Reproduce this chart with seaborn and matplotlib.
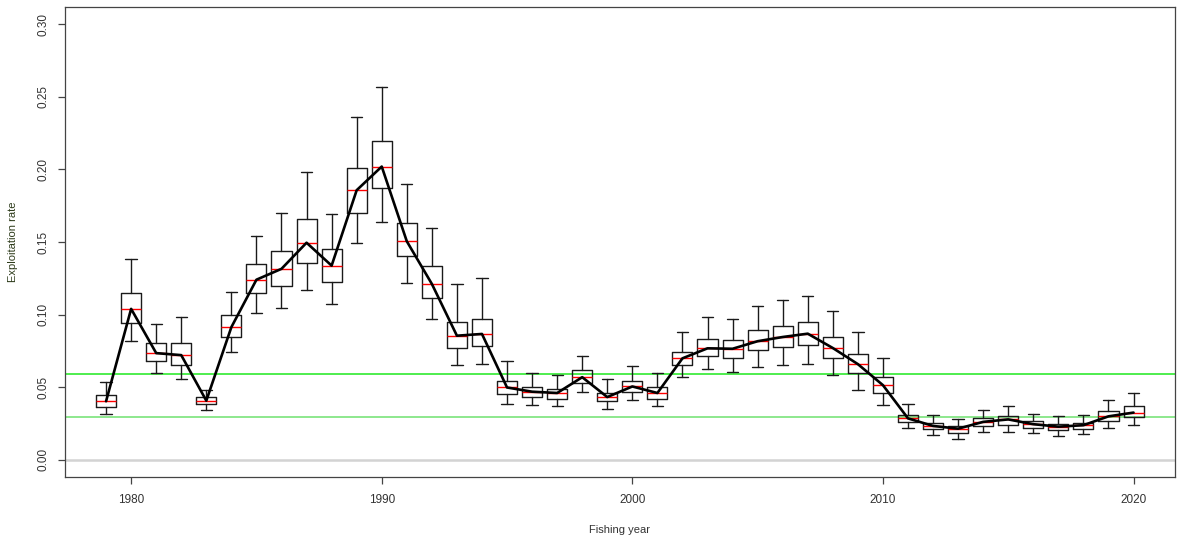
import numpy as np
import pandas as pd
import matplotlib
matplotlib.use("Agg")
import matplotlib.pyplot as plt
import seaborn as sns

years = list(range(1979, 2021))
lower = [0.0312, 0.0816, 0.0596, 0.0554, 0.0339, 0.0740, 0.1010, 0.1046, 0.1169, 0.1074,
         0.1490, 0.1635, 0.1218, 0.0970, 0.0651, 0.0658, 0.0381, 0.0374, 0.0367, 0.0466,
         0.0348, 0.0409, 0.0367, 0.0568, 0.0625, 0.0603, 0.0636, 0.0651, 0.0658, 0.0582,
         0.0483, 0.0374, 0.0215, 0.0170, 0.0144, 0.0192, 0.0187, 0.0180, 0.0166, 0.0173,
         0.0215, 0.0241]
q1 = [0.0360, 0.0944, 0.0679, 0.0651, 0.0383, 0.0845, 0.1147, 0.1197, 0.1356, 0.1223,
      0.1703, 0.1871, 0.1400, 0.1117, 0.0769, 0.0785, 0.0449, 0.0431, 0.0421, 0.0525,
      0.0402, 0.0468, 0.0421, 0.0651, 0.0714, 0.0703, 0.0755, 0.0776, 0.0790, 0.0698,
      0.0594, 0.0459, 0.0258, 0.0211, 0.0182, 0.0229, 0.0237, 0.0215, 0.0203, 0.0208,
      0.0265, 0.0296]
median = [0.0402, 0.1039, 0.0734, 0.0720, 0.0406, 0.0913, 0.1240, 0.1315, 0.1495, 0.1337,
          0.1857, 0.2020, 0.1505, 0.1211, 0.0854, 0.0866, 0.0497, 0.0468, 0.0459, 0.0568,
          0.0431, 0.0504, 0.0459, 0.0698, 0.0767, 0.0764, 0.0816, 0.0845, 0.0868, 0.0769,
          0.0658, 0.0513, 0.0284, 0.0232, 0.0213, 0.0260, 0.0277, 0.0244, 0.0227, 0.0237,
          0.0298, 0.0324]
q3 = [0.0445, 0.1148, 0.0802, 0.0802, 0.0431, 0.0996, 0.1346, 0.1441, 0.1656, 0.1453,
      0.2013, 0.2195, 0.1628, 0.1332, 0.0946, 0.0968, 0.0544, 0.0497, 0.0490, 0.0615,
      0.0461, 0.0544, 0.0497, 0.0745, 0.0828, 0.0821, 0.0890, 0.0920, 0.0946, 0.0845,
      0.0726, 0.0568, 0.0310, 0.0253, 0.0232, 0.0284, 0.0300, 0.0263, 0.0246, 0.0255,
      0.0334, 0.0369]
upper = [0.0537, 0.1384, 0.0937, 0.0984, 0.0481, 0.1157, 0.1542, 0.1703, 0.1980, 0.1696,
         0.2361, 0.2569, 0.1897, 0.1594, 0.1211, 0.1254, 0.0677, 0.0596, 0.0580, 0.0717,
         0.0558, 0.0648, 0.0596, 0.0878, 0.0982, 0.0972, 0.1060, 0.1100, 0.1131, 0.1024,
         0.0878, 0.0698, 0.0386, 0.0308, 0.0277, 0.0345, 0.0367, 0.0317, 0.0303, 0.0308,
         0.0409, 0.0457]
ref_lines = [0.0589, 0.0291]
ref_colors = ["#1ee81e", "#6fe26f"]

df = pd.DataFrame({"year": years, "lower": lower, "q1": q1, "median": median,
                   "q3": q3, "upper": upper})

sns.set_style("ticks")
plt.rcParams["font.family"] = ["Liberation Sans", "DejaVu Sans"]

fig = plt.figure(figsize=(11.77, 5.38), dpi=100)
ax = fig.add_axes([0.0552, 0.1134, 0.9428, 0.8736])

ax.axhline(0, color="#d3d3d3", lw=1.8, zorder=0)
for r, c in zip(ref_lines, ref_colors):
    ax.axhline(r, color=c, lw=1.1, zorder=1)

stats = [{"whislo": r.lower, "q1": r.q1, "med": r.median, "q3": r.q3,
          "whishi": r.upper, "fliers": []} for r in df.itertuples()]
ax.bxp(stats, positions=df["year"], widths=0.8, capwidths=0.45,
       showfliers=False, manage_ticks=False,
       boxprops=dict(color="#1a1a1a", lw=1.0),
       whiskerprops=dict(color="#1a1a1a", lw=1.0),
       capprops=dict(color="#1a1a1a", lw=1.0),
       medianprops=dict(color="red", lw=1.0))

sns.lineplot(data=df, x="year", y="median", color="black", lw=1.9, ax=ax, zorder=5)

ax.set_xlim(1977.36, 2021.64)
ax.set_ylim(-0.012, 0.312)
ax.set_xticks([1980, 1990, 2000, 2010, 2020])
ax.set_yticks([0.0, 0.05, 0.10, 0.15, 0.20, 0.25, 0.30])
ax.set_yticklabels(["0.00", "0.05", "0.10", "0.15", "0.20", "0.25", "0.30"],
                   rotation=90, va="center")
ax.tick_params(axis="both", labelsize=8.5, colors="#444444", labelcolor="#333333",
               length=5, width=0.9)
ax.tick_params(axis="x", pad=7)
ax.tick_params(axis="y", pad=6)
for s in ax.spines.values():
    s.set_visible(True)
    s.set_color("#444444")
    s.set_linewidth(0.9)

ax.set_xlabel("Fishing year", fontsize=8, color="#333333", labelpad=14)
ax.set_ylabel("Exploitation rate", fontsize=8, color="#2d3b1a", labelpad=14)

fig.savefig("out.png", dpi=100)
